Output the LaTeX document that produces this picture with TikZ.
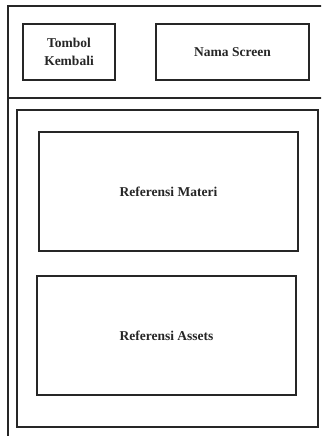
\documentclass[tikz,border=0pt]{standalone}
\usepackage{fontspec}
\setmainfont{Liberation Serif}
\begin{document}
\begin{tikzpicture}[x=1pt,y=-1pt,
  frame/.style={draw=black!85,line width=1.8pt},
  panel/.style={draw=black!85,line width=2.2pt,rectangle,inner sep=0pt,
    font=\bfseries\fontsize{13.5}{18}\selectfont,align=center,text=black!85}]
\useasboundingbox (0,0) rectangle (321,436);
\clip (0,0) rectangle (321,436);
\fill[white] (0,0) rectangle (321,436);
% screen outline and header divider
\draw[frame] (8,6) rectangle (340,460);
\draw[frame] (8,98) -- (340,98);
% content area
\draw[frame] (17,110) rectangle (318,427);
% header elements
\node[panel,minimum width=92,minimum height=56] (back) at (69,52) {Tombol\\Kembali};
\node[panel,minimum width=153,minimum height=56] (title) at (232.5,52) {Nama Screen};
% content panels
\node[panel,minimum width=259,minimum height=119] (materi) at (168.5,191.5) {Referensi Materi};
\node[panel,minimum width=259,minimum height=119] (assets) at (166.5,335.5) {Referensi Assets};
\end{tikzpicture}
\end{document}
